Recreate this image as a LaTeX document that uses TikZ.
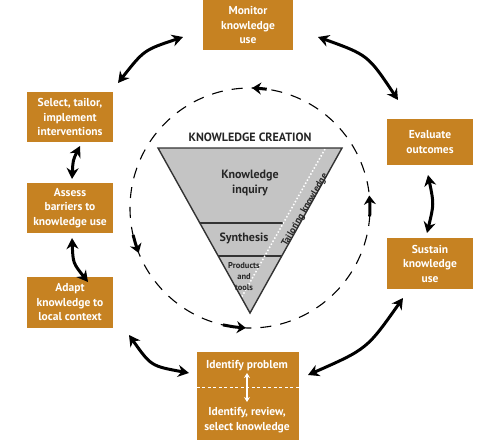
\documentclass[tikz,border=0pt]{standalone}
\usepackage{fontspec}
\setmainfont{PT Sans}
\usetikzlibrary{arrows.meta}
\definecolor{kbox}{RGB}{198,130,34}
\definecolor{tri}{RGB}{196,196,196}
\begin{document}
\begin{tikzpicture}[x=1pt,y=-1pt,
  kb/.style={fill=kbox, text=white, font=\bfseries\fontsize{11.5}{14.5}\selectfont, align=center, inner sep=0pt},
  big/.style={line width=3pt, {Stealth[length=11pt,width=12pt]}-{Stealth[length=11pt,width=12pt]}},
  cyc/.style={line width=3pt, -{Stealth[length=9pt,width=12pt]}},
  trit/.style={text=black!85, font=\bfseries\fontsize{10}{13}\selectfont, align=center, inner sep=0pt},
]
\useasboundingbox (0,0) rectangle (500,444);

% boxes
\node[kb, minimum width=90pt, minimum height=51pt] (mon) at (248,25) {Monitor\\knowledge\\use};
\node[kb, minimum width=86pt, minimum height=50pt] (sel) at (70,117) {Select, tailor,\\implement\\interventions};
\node[kb, minimum width=86pt, minimum height=50pt] (ass) at (70,208) {Assess\\barriers to\\knowledge use};
\node[kb, minimum width=86pt, minimum height=51pt] (ada) at (70,302.5) {Adapt\\knowledge to\\local context};
\node[kb, minimum width=86pt, minimum height=46pt] (eva) at (430,142) {Evaluate\\outcomes};
\node[kb, minimum width=86pt, minimum height=51pt] (sus) at (430,263.5) {Sustain\\knowledge\\use};
\node[kb, minimum width=102pt, minimum height=88pt] (idb) at (248,396) {};
\node[kb, fill=none] (idp) at (247,366) {Identify problem};
\node[kb, fill=none] (idk) at (247,420) {Identify, review,\\select knowledge};
\draw[white, line width=1pt, dash pattern=on 3pt off 2.5pt] (idb.west |- 0,387) -- (idb.east |- 0,387);
\coordinate (ia) at (247,373);
\coordinate (ib) at (247,402);
\draw[white, line width=1.3pt, {Stealth[length=5pt,width=6pt]}-{Stealth[length=5pt,width=6pt]}] (ia) -- (ib);

% outer arrows
\coordinate (a1s) at (183,37);  \coordinate (a1e) at (118,83);
\coordinate (a2s) at (318,37);  \coordinate (a2e) at (398,100);
\coordinate (a3s) at (80,146);  \coordinate (a3e) at (72,179);
\coordinate (a4s) at (72,238);  \coordinate (a4e) at (88,282);
\coordinate (a5s) at (129,335); \coordinate (a5e) at (189,373);
\coordinate (a6s) at (308,375); \coordinate (a6e) at (403,298);
\coordinate (a7s) at (428,175); \coordinate (a7e) at (427,233);
\draw[big] (a1s) .. controls (144,50) .. (a1e);
\draw[big] (a2s) .. controls (368,55) .. (a2e);
\draw[big] (a3s) .. controls (73,160) .. (a3e);
\draw[big] (a4s) .. controls (73,263) .. (a4e);
\draw[big] (a5s) .. controls (151,366) .. (a5e);
\draw[big] (a6s) .. controls (367,349) .. (a6e);
\draw[big] (a7s) .. controls (434,204) .. (a7e);

% dashed cycle
\coordinate (cc) at (250,208);
\draw[line width=1.1pt, dash pattern=on 11pt off 9pt, dash phase=4pt] (cc) circle[radius=120pt];
\draw[cyc] (266.7,89.2) .. controls (259.4,88.4) .. (252.1,88.0);
\draw[cyc] (133.1,235.0) .. controls (135.6,244.1) .. (138.7,253.0);
\draw[cyc] (223,324.9) .. controls (234.3,327) .. (245.8,327.9);
\draw[cyc] (369.7,216.4) .. controls (370,205.9) .. (369.3,195.5);

% knowledge creation triangle
\node[trit, font=\bfseries\fontsize{12}{13}\selectfont] (kc) at (250,137) {KNOWLEDGE CREATION};
\coordinate (t1) at (158,148);
\coordinate (t2) at (342,148);
\coordinate (t3) at (250,313);
\fill[tri] (t1) -- (t2) -- (t3) -- cycle;
\draw[black!80, line width=1.6pt] (199.8,223) -- (283,223);
\draw[black!80, line width=1.6pt] (218.2,256) -- (282,256);
\draw[white, line width=1.5pt, dash pattern=on 1.5pt off 2pt] (325,149) -- (240,300);
\draw[black!80, line width=1.4pt, line join=miter] (t1) -- (t2) -- (t3) -- cycle;
\node[trit, font=\bfseries\fontsize{12}{15.5}\selectfont] (ki) at (250,183) {Knowledge\\inquiry};
\node[trit, font=\bfseries\fontsize{12}{13}\selectfont] (sy) at (244,238) {Synthesis};
\node[trit, font=\bfseries\fontsize{8.5}{11}\selectfont] (pt) at (244,277) {Products\\and\\tools};
\node[trit, font=\bfseries\fontsize{9.5}{12}\selectfont, rotate=60] (tk) at (305,210) {Tailoring knowledge};
\end{tikzpicture}
\end{document}
